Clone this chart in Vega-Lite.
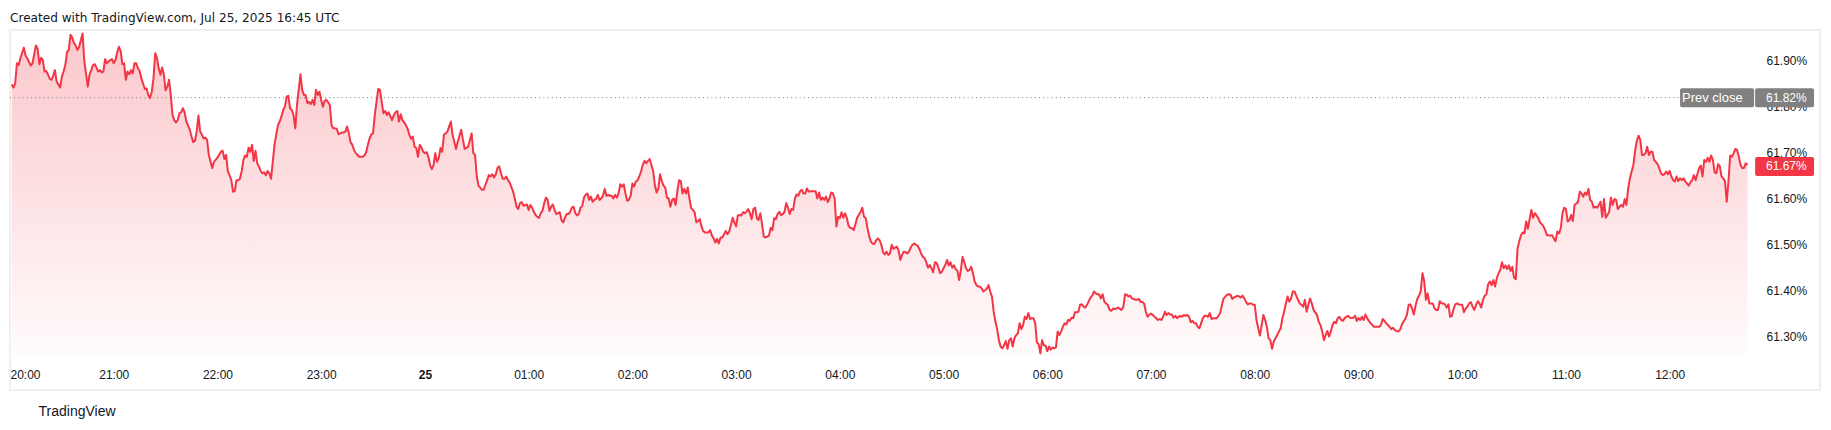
{
"$schema": "https://vega.github.io/schema/vega-lite/v6.json",
"width": 1810, "height": 360,
"autosize": {"type": "none"},
"padding": {"left": 10, "top": 30, "right": 11, "bottom": 40},
"background": "#ffffff",
"config": {"view": {"stroke": "#efefef", "strokeWidth": 2}, "font": "Liberation Sans"},
"title": {"text": "Created with TradingView.com, Jul 25, 2025 16:45 UTC", "anchor": "start", "frame": "group", "font": "DejaVu Sans", "fontSize": 12.1, "fontWeight": "normal", "color": "#131722", "offset": -4, "baseline": "alphabetic"},
"layer": [
  {"data": {"format": {"parse": {"t": "utc:'%Y-%m-%d %H:%M'"}}, "values": [
{"t":"2025-07-24 20:01","v":61.849},{"t":"2025-07-24 20:02","v":61.842},{"t":"2025-07-24 20:03","v":61.851},{"t":"2025-07-24 20:04","v":61.895},{"t":"2025-07-24 20:05","v":61.891},{"t":"2025-07-24 20:06","v":61.906},{"t":"2025-07-24 20:08","v":61.929},{"t":"2025-07-24 20:09","v":61.912},{"t":"2025-07-24 20:10","v":61.906},{"t":"2025-07-24 20:12","v":61.890},{"t":"2025-07-24 20:13","v":61.895},{"t":"2025-07-24 20:15","v":61.934},{"t":"2025-07-24 20:16","v":61.926},{"t":"2025-07-24 20:17","v":61.893},{"t":"2025-07-24 20:18","v":61.907},{"t":"2025-07-24 20:19","v":61.902},{"t":"2025-07-24 20:20","v":61.877},{"t":"2025-07-24 20:21","v":61.878},{"t":"2025-07-24 20:22","v":61.870},{"t":"2025-07-24 20:23","v":61.861},{"t":"2025-07-24 20:24","v":61.859},{"t":"2025-07-24 20:25","v":61.868},{"t":"2025-07-24 20:26","v":61.880},{"t":"2025-07-24 20:27","v":61.855},{"t":"2025-07-24 20:29","v":61.842},{"t":"2025-07-24 20:30","v":61.866},{"t":"2025-07-24 20:31","v":61.877},{"t":"2025-07-24 20:32","v":61.891},{"t":"2025-07-24 20:33","v":61.920},{"t":"2025-07-24 20:34","v":61.924},{"t":"2025-07-24 20:35","v":61.957},{"t":"2025-07-24 20:36","v":61.951},{"t":"2025-07-24 20:37","v":61.939},{"t":"2025-07-24 20:38","v":61.934},{"t":"2025-07-24 20:39","v":61.924},{"t":"2025-07-24 20:40","v":61.931},{"t":"2025-07-24 20:42","v":61.960},{"t":"2025-07-24 20:43","v":61.899},{"t":"2025-07-24 20:45","v":61.844},{"t":"2025-07-24 20:46","v":61.870},{"t":"2025-07-24 20:47","v":61.880},{"t":"2025-07-24 20:48","v":61.891},{"t":"2025-07-24 20:49","v":61.893},{"t":"2025-07-24 20:50","v":61.886},{"t":"2025-07-24 20:51","v":61.877},{"t":"2025-07-24 20:52","v":61.880},{"t":"2025-07-24 20:53","v":61.875},{"t":"2025-07-24 20:54","v":61.877},{"t":"2025-07-24 20:55","v":61.904},{"t":"2025-07-24 20:56","v":61.895},{"t":"2025-07-24 20:57","v":61.899},{"t":"2025-07-24 20:58","v":61.902},{"t":"2025-07-24 20:59","v":61.904},
{"t":"2025-07-24 21:00","v":61.895},{"t":"2025-07-24 21:01","v":61.902},{"t":"2025-07-24 21:02","v":61.919},{"t":"2025-07-24 21:03","v":61.931},{"t":"2025-07-24 21:04","v":61.922},{"t":"2025-07-24 21:05","v":61.893},{"t":"2025-07-24 21:06","v":61.895},{"t":"2025-07-24 21:07","v":61.859},{"t":"2025-07-24 21:08","v":61.877},{"t":"2025-07-24 21:09","v":61.871},{"t":"2025-07-24 21:10","v":61.880},{"t":"2025-07-24 21:11","v":61.873},{"t":"2025-07-24 21:12","v":61.895},{"t":"2025-07-24 21:13","v":61.895},{"t":"2025-07-24 21:14","v":61.884},{"t":"2025-07-24 21:15","v":61.878},{"t":"2025-07-24 21:16","v":61.862},{"t":"2025-07-24 21:18","v":61.839},{"t":"2025-07-24 21:19","v":61.840},{"t":"2025-07-24 21:20","v":61.826},{"t":"2025-07-24 21:21","v":61.819},{"t":"2025-07-24 21:22","v":61.833},{"t":"2025-07-24 21:23","v":61.862},{"t":"2025-07-24 21:24","v":61.917},{"t":"2025-07-24 21:25","v":61.906},{"t":"2025-07-24 21:26","v":61.884},{"t":"2025-07-24 21:27","v":61.870},{"t":"2025-07-24 21:28","v":61.886},{"t":"2025-07-24 21:29","v":61.870},{"t":"2025-07-24 21:30","v":61.836},{"t":"2025-07-24 21:31","v":61.844},{"t":"2025-07-24 21:32","v":61.859},{"t":"2025-07-24 21:33","v":61.826},{"t":"2025-07-24 21:34","v":61.782},{"t":"2025-07-24 21:35","v":61.771},{"t":"2025-07-24 21:36","v":61.766},{"t":"2025-07-24 21:37","v":61.771},{"t":"2025-07-24 21:38","v":61.786},{"t":"2025-07-24 21:39","v":61.788},{"t":"2025-07-24 21:40","v":61.797},{"t":"2025-07-24 21:41","v":61.788},{"t":"2025-07-24 21:42","v":61.768},{"t":"2025-07-24 21:43","v":61.759},{"t":"2025-07-24 21:44","v":61.750},{"t":"2025-07-24 21:45","v":61.735},{"t":"2025-07-24 21:46","v":61.723},{"t":"2025-07-24 21:47","v":61.726},{"t":"2025-07-24 21:48","v":61.746},{"t":"2025-07-24 21:49","v":61.781},{"t":"2025-07-24 21:50","v":61.746},{"t":"2025-07-24 21:51","v":61.739},{"t":"2025-07-24 21:52","v":61.731},{"t":"2025-07-24 21:53","v":61.733},{"t":"2025-07-24 21:54","v":61.728},{"t":"2025-07-24 21:55","v":61.695},{"t":"2025-07-24 21:56","v":61.680},{"t":"2025-07-24 21:57","v":61.666},{"t":"2025-07-24 21:58","v":61.680},
{"t":"2025-07-24 22:00","v":61.689},{"t":"2025-07-24 22:01","v":61.696},{"t":"2025-07-24 22:02","v":61.702},{"t":"2025-07-24 22:03","v":61.704},{"t":"2025-07-24 22:04","v":61.686},{"t":"2025-07-24 22:05","v":61.695},{"t":"2025-07-24 22:06","v":61.659},{"t":"2025-07-24 22:07","v":61.651},{"t":"2025-07-24 22:08","v":61.640},{"t":"2025-07-24 22:09","v":61.615},{"t":"2025-07-24 22:10","v":61.616},{"t":"2025-07-24 22:11","v":61.640},{"t":"2025-07-24 22:12","v":61.640},{"t":"2025-07-24 22:13","v":61.643},{"t":"2025-07-24 22:14","v":61.659},{"t":"2025-07-24 22:15","v":61.684},{"t":"2025-07-24 22:16","v":61.694},{"t":"2025-07-24 22:17","v":61.691},{"t":"2025-07-24 22:18","v":61.711},{"t":"2025-07-24 22:19","v":61.702},{"t":"2025-07-24 22:20","v":61.717},{"t":"2025-07-24 22:21","v":61.682},{"t":"2025-07-24 22:22","v":61.704},{"t":"2025-07-24 22:23","v":61.677},{"t":"2025-07-24 22:24","v":61.670},{"t":"2025-07-24 22:25","v":61.660},{"t":"2025-07-24 22:26","v":61.655},{"t":"2025-07-24 22:27","v":61.657},{"t":"2025-07-24 22:28","v":61.651},{"t":"2025-07-24 22:29","v":61.660},{"t":"2025-07-24 22:30","v":61.655},{"t":"2025-07-24 22:31","v":61.643},{"t":"2025-07-24 22:32","v":61.680},{"t":"2025-07-24 22:33","v":61.717},{"t":"2025-07-24 22:34","v":61.739},{"t":"2025-07-24 22:35","v":61.760},{"t":"2025-07-24 22:36","v":61.768},{"t":"2025-07-24 22:37","v":61.779},{"t":"2025-07-24 22:38","v":61.793},{"t":"2025-07-24 22:39","v":61.800},{"t":"2025-07-24 22:40","v":61.822},{"t":"2025-07-24 22:41","v":61.824},{"t":"2025-07-24 22:42","v":61.797},{"t":"2025-07-24 22:43","v":61.793},{"t":"2025-07-24 22:44","v":61.782},{"t":"2025-07-24 22:45","v":61.753},{"t":"2025-07-24 22:46","v":61.804},{"t":"2025-07-24 22:47","v":61.837},{"t":"2025-07-24 22:48","v":61.871},{"t":"2025-07-24 22:49","v":61.837},{"t":"2025-07-24 22:50","v":61.826},{"t":"2025-07-24 22:51","v":61.826},{"t":"2025-07-24 22:52","v":61.808},{"t":"2025-07-24 22:53","v":61.811},{"t":"2025-07-24 22:54","v":61.806},{"t":"2025-07-24 22:55","v":61.815},{"t":"2025-07-24 22:56","v":61.804},{"t":"2025-07-24 22:57","v":61.837},{"t":"2025-07-24 22:58","v":61.826},{"t":"2025-07-24 22:59","v":61.833},
{"t":"2025-07-24 23:00","v":61.815},{"t":"2025-07-24 23:01","v":61.800},{"t":"2025-07-24 23:02","v":61.813},{"t":"2025-07-24 23:03","v":61.815},{"t":"2025-07-24 23:04","v":61.810},{"t":"2025-07-24 23:05","v":61.804},{"t":"2025-07-24 23:06","v":61.760},{"t":"2025-07-24 23:07","v":61.753},{"t":"2025-07-24 23:08","v":61.753},{"t":"2025-07-24 23:09","v":61.752},{"t":"2025-07-24 23:10","v":61.740},{"t":"2025-07-24 23:11","v":61.742},{"t":"2025-07-24 23:12","v":61.744},{"t":"2025-07-24 23:13","v":61.744},{"t":"2025-07-24 23:14","v":61.746},{"t":"2025-07-24 23:15","v":61.757},{"t":"2025-07-24 23:16","v":61.742},{"t":"2025-07-24 23:17","v":61.723},{"t":"2025-07-24 23:18","v":61.717},{"t":"2025-07-24 23:19","v":61.706},{"t":"2025-07-24 23:20","v":61.699},{"t":"2025-07-24 23:21","v":61.695},{"t":"2025-07-24 23:22","v":61.691},{"t":"2025-07-24 23:23","v":61.691},{"t":"2025-07-24 23:24","v":61.691},{"t":"2025-07-24 23:25","v":61.694},{"t":"2025-07-24 23:26","v":61.701},{"t":"2025-07-24 23:27","v":61.717},{"t":"2025-07-24 23:28","v":61.731},{"t":"2025-07-24 23:29","v":61.740},{"t":"2025-07-24 23:30","v":61.742},{"t":"2025-07-24 23:31","v":61.782},{"t":"2025-07-24 23:32","v":61.811},{"t":"2025-07-24 23:33","v":61.839},{"t":"2025-07-24 23:34","v":61.837},{"t":"2025-07-24 23:35","v":61.811},{"t":"2025-07-24 23:36","v":61.786},{"t":"2025-07-24 23:37","v":61.791},{"t":"2025-07-24 23:38","v":61.782},{"t":"2025-07-24 23:39","v":61.788},{"t":"2025-07-24 23:40","v":61.779},{"t":"2025-07-24 23:41","v":61.771},{"t":"2025-07-24 23:42","v":61.782},{"t":"2025-07-24 23:43","v":61.788},{"t":"2025-07-24 23:44","v":61.791},{"t":"2025-07-24 23:45","v":61.768},{"t":"2025-07-24 23:46","v":61.784},{"t":"2025-07-24 23:47","v":61.771},{"t":"2025-07-24 23:48","v":61.766},{"t":"2025-07-24 23:49","v":61.760},{"t":"2025-07-24 23:50","v":61.752},{"t":"2025-07-24 23:51","v":61.739},{"t":"2025-07-24 23:52","v":61.730},{"t":"2025-07-24 23:53","v":61.735},{"t":"2025-07-24 23:54","v":61.713},{"t":"2025-07-24 23:55","v":61.710},{"t":"2025-07-24 23:56","v":61.691},{"t":"2025-07-24 23:57","v":61.717},{"t":"2025-07-24 23:58","v":61.711},{"t":"2025-07-24 23:59","v":61.702},
{"t":"2025-07-25 00:00","v":61.699},{"t":"2025-07-25 00:01","v":61.701},{"t":"2025-07-25 00:02","v":61.691},{"t":"2025-07-25 00:03","v":61.673},{"t":"2025-07-25 00:04","v":61.664},{"t":"2025-07-25 00:05","v":61.673},{"t":"2025-07-25 00:06","v":61.699},{"t":"2025-07-25 00:07","v":61.680},{"t":"2025-07-25 00:08","v":61.688},{"t":"2025-07-25 00:09","v":61.710},{"t":"2025-07-25 00:10","v":61.702},{"t":"2025-07-25 00:11","v":61.739},{"t":"2025-07-25 00:12","v":61.742},{"t":"2025-07-25 00:13","v":61.746},{"t":"2025-07-25 00:15","v":61.768},{"t":"2025-07-25 00:16","v":61.739},{"t":"2025-07-25 00:18","v":61.708},{"t":"2025-07-25 00:19","v":61.724},{"t":"2025-07-25 00:21","v":61.750},{"t":"2025-07-25 00:22","v":61.728},{"t":"2025-07-25 00:23","v":61.708},{"t":"2025-07-25 00:25","v":61.713},{"t":"2025-07-25 00:27","v":61.742},{"t":"2025-07-25 00:28","v":61.699},{"t":"2025-07-25 00:29","v":61.695},{"t":"2025-07-25 00:30","v":61.648},{"t":"2025-07-25 00:31","v":61.628},{"t":"2025-07-25 00:33","v":61.619},{"t":"2025-07-25 00:34","v":61.619},{"t":"2025-07-25 00:35","v":61.630},{"t":"2025-07-25 00:36","v":61.640},{"t":"2025-07-25 00:37","v":61.651},{"t":"2025-07-25 00:38","v":61.648},{"t":"2025-07-25 00:39","v":61.653},{"t":"2025-07-25 00:40","v":61.646},{"t":"2025-07-25 00:41","v":61.653},{"t":"2025-07-25 00:42","v":61.667},{"t":"2025-07-25 00:43","v":61.670},{"t":"2025-07-25 00:44","v":61.655},{"t":"2025-07-25 00:45","v":61.643},{"t":"2025-07-25 00:46","v":61.643},{"t":"2025-07-25 00:47","v":61.648},{"t":"2025-07-25 00:48","v":61.640},{"t":"2025-07-25 00:49","v":61.635},{"t":"2025-07-25 00:51","v":61.615},{"t":"2025-07-25 00:52","v":61.600},{"t":"2025-07-25 00:53","v":61.582},{"t":"2025-07-25 00:54","v":61.577},{"t":"2025-07-25 00:55","v":61.590},{"t":"2025-07-25 00:56","v":61.592},{"t":"2025-07-25 00:57","v":61.584},{"t":"2025-07-25 00:58","v":61.586},{"t":"2025-07-25 00:59","v":61.587},
{"t":"2025-07-25 01:00","v":61.575},{"t":"2025-07-25 01:01","v":61.586},{"t":"2025-07-25 01:02","v":61.580},{"t":"2025-07-25 01:03","v":61.571},{"t":"2025-07-25 01:04","v":61.564},{"t":"2025-07-25 01:05","v":61.560},{"t":"2025-07-25 01:06","v":61.558},{"t":"2025-07-25 01:07","v":61.568},{"t":"2025-07-25 01:08","v":61.573},{"t":"2025-07-25 01:09","v":61.590},{"t":"2025-07-25 01:10","v":61.602},{"t":"2025-07-25 01:11","v":61.597},{"t":"2025-07-25 01:12","v":61.573},{"t":"2025-07-25 01:13","v":61.582},{"t":"2025-07-25 01:14","v":61.587},{"t":"2025-07-25 01:15","v":61.575},{"t":"2025-07-25 01:16","v":61.566},{"t":"2025-07-25 01:17","v":61.568},{"t":"2025-07-25 01:18","v":61.570},{"t":"2025-07-25 01:19","v":61.553},{"t":"2025-07-25 01:20","v":61.548},{"t":"2025-07-25 01:21","v":61.558},{"t":"2025-07-25 01:22","v":61.566},{"t":"2025-07-25 01:23","v":61.566},{"t":"2025-07-25 01:24","v":61.571},{"t":"2025-07-25 01:25","v":61.580},{"t":"2025-07-25 01:26","v":61.582},{"t":"2025-07-25 01:27","v":61.568},{"t":"2025-07-25 01:28","v":61.563},{"t":"2025-07-25 01:29","v":61.566},{"t":"2025-07-25 01:30","v":61.580},{"t":"2025-07-25 01:31","v":61.584},{"t":"2025-07-25 01:32","v":61.602},{"t":"2025-07-25 01:33","v":61.608},{"t":"2025-07-25 01:34","v":61.611},{"t":"2025-07-25 01:35","v":61.597},{"t":"2025-07-25 01:36","v":61.604},{"t":"2025-07-25 01:37","v":61.593},{"t":"2025-07-25 01:38","v":61.597},{"t":"2025-07-25 01:39","v":61.599},{"t":"2025-07-25 01:40","v":61.608},{"t":"2025-07-25 01:41","v":61.597},{"t":"2025-07-25 01:42","v":61.600},{"t":"2025-07-25 01:43","v":61.606},{"t":"2025-07-25 01:44","v":61.621},{"t":"2025-07-25 01:45","v":61.606},{"t":"2025-07-25 01:46","v":61.608},{"t":"2025-07-25 01:47","v":61.606},{"t":"2025-07-25 01:48","v":61.606},{"t":"2025-07-25 01:49","v":61.600},{"t":"2025-07-25 01:50","v":61.608},{"t":"2025-07-25 01:51","v":61.602},{"t":"2025-07-25 01:52","v":61.611},{"t":"2025-07-25 01:53","v":61.631},{"t":"2025-07-25 01:54","v":61.626},{"t":"2025-07-25 01:55","v":61.631},{"t":"2025-07-25 01:56","v":61.611},{"t":"2025-07-25 01:57","v":61.595},{"t":"2025-07-25 01:58","v":61.597},{"t":"2025-07-25 01:59","v":61.606},
{"t":"2025-07-25 02:00","v":61.633},{"t":"2025-07-25 02:01","v":61.626},{"t":"2025-07-25 02:02","v":61.637},{"t":"2025-07-25 02:03","v":61.640},{"t":"2025-07-25 02:04","v":61.648},{"t":"2025-07-25 02:05","v":61.659},{"t":"2025-07-25 02:06","v":61.673},{"t":"2025-07-25 02:07","v":61.682},{"t":"2025-07-25 02:08","v":61.677},{"t":"2025-07-25 02:09","v":61.682},{"t":"2025-07-25 02:10","v":61.686},{"t":"2025-07-25 02:11","v":61.673},{"t":"2025-07-25 02:12","v":61.660},{"t":"2025-07-25 02:13","v":61.630},{"t":"2025-07-25 02:14","v":61.613},{"t":"2025-07-25 02:15","v":61.621},{"t":"2025-07-25 02:16","v":61.653},{"t":"2025-07-25 02:17","v":61.638},{"t":"2025-07-25 02:18","v":61.628},{"t":"2025-07-25 02:19","v":61.624},{"t":"2025-07-25 02:20","v":61.602},{"t":"2025-07-25 02:21","v":61.600},{"t":"2025-07-25 02:22","v":61.582},{"t":"2025-07-25 02:23","v":61.597},{"t":"2025-07-25 02:24","v":61.600},{"t":"2025-07-25 02:25","v":61.586},{"t":"2025-07-25 02:26","v":61.615},{"t":"2025-07-25 02:27","v":61.640},{"t":"2025-07-25 02:28","v":61.638},{"t":"2025-07-25 02:29","v":61.611},{"t":"2025-07-25 02:30","v":61.621},{"t":"2025-07-25 02:31","v":61.611},{"t":"2025-07-25 02:32","v":61.624},{"t":"2025-07-25 02:33","v":61.600},{"t":"2025-07-25 02:34","v":61.579},{"t":"2025-07-25 02:35","v":61.575},{"t":"2025-07-25 02:36","v":61.570},{"t":"2025-07-25 02:37","v":61.548},{"t":"2025-07-25 02:38","v":61.551},{"t":"2025-07-25 02:39","v":61.555},{"t":"2025-07-25 02:40","v":61.539},{"t":"2025-07-25 02:41","v":61.529},{"t":"2025-07-25 02:42","v":61.526},{"t":"2025-07-25 02:43","v":61.526},{"t":"2025-07-25 02:44","v":61.526},{"t":"2025-07-25 02:45","v":61.531},{"t":"2025-07-25 02:46","v":61.519},{"t":"2025-07-25 02:47","v":61.513},{"t":"2025-07-25 02:48","v":61.504},{"t":"2025-07-25 02:49","v":61.512},{"t":"2025-07-25 02:50","v":61.502},{"t":"2025-07-25 02:51","v":61.515},{"t":"2025-07-25 02:52","v":61.515},{"t":"2025-07-25 02:53","v":61.522},{"t":"2025-07-25 02:54","v":61.529},{"t":"2025-07-25 02:55","v":61.522},{"t":"2025-07-25 02:56","v":61.528},{"t":"2025-07-25 02:57","v":61.542},{"t":"2025-07-25 02:58","v":61.558},{"t":"2025-07-25 02:59","v":61.548},
{"t":"2025-07-25 03:00","v":61.539},{"t":"2025-07-25 03:01","v":61.563},{"t":"2025-07-25 03:02","v":61.564},{"t":"2025-07-25 03:03","v":61.563},{"t":"2025-07-25 03:04","v":61.570},{"t":"2025-07-25 03:05","v":61.568},{"t":"2025-07-25 03:06","v":61.571},{"t":"2025-07-25 03:07","v":61.577},{"t":"2025-07-25 03:08","v":61.568},{"t":"2025-07-25 03:09","v":61.555},{"t":"2025-07-25 03:10","v":61.577},{"t":"2025-07-25 03:11","v":61.580},{"t":"2025-07-25 03:12","v":61.557},{"t":"2025-07-25 03:13","v":61.553},{"t":"2025-07-25 03:14","v":61.568},{"t":"2025-07-25 03:15","v":61.544},{"t":"2025-07-25 03:16","v":61.517},{"t":"2025-07-25 03:17","v":61.515},{"t":"2025-07-25 03:18","v":61.517},{"t":"2025-07-25 03:19","v":61.519},{"t":"2025-07-25 03:20","v":61.536},{"t":"2025-07-25 03:21","v":61.531},{"t":"2025-07-25 03:22","v":61.557},{"t":"2025-07-25 03:23","v":61.555},{"t":"2025-07-25 03:24","v":61.566},{"t":"2025-07-25 03:25","v":61.571},{"t":"2025-07-25 03:26","v":61.564},{"t":"2025-07-25 03:27","v":61.566},{"t":"2025-07-25 03:28","v":61.571},{"t":"2025-07-25 03:29","v":61.590},{"t":"2025-07-25 03:30","v":61.580},{"t":"2025-07-25 03:31","v":61.566},{"t":"2025-07-25 03:32","v":61.577},{"t":"2025-07-25 03:33","v":61.575},{"t":"2025-07-25 03:34","v":61.600},{"t":"2025-07-25 03:35","v":61.609},{"t":"2025-07-25 03:36","v":61.606},{"t":"2025-07-25 03:37","v":61.616},{"t":"2025-07-25 03:38","v":61.619},{"t":"2025-07-25 03:39","v":61.611},{"t":"2025-07-25 03:40","v":61.611},{"t":"2025-07-25 03:41","v":61.622},{"t":"2025-07-25 03:42","v":61.615},{"t":"2025-07-25 03:43","v":61.616},{"t":"2025-07-25 03:44","v":61.616},{"t":"2025-07-25 03:45","v":61.616},{"t":"2025-07-25 03:46","v":61.616},{"t":"2025-07-25 03:47","v":61.600},{"t":"2025-07-25 03:48","v":61.613},{"t":"2025-07-25 03:49","v":61.597},{"t":"2025-07-25 03:50","v":61.602},{"t":"2025-07-25 03:51","v":61.597},{"t":"2025-07-25 03:52","v":61.604},{"t":"2025-07-25 03:53","v":61.592},{"t":"2025-07-25 03:54","v":61.600},{"t":"2025-07-25 03:55","v":61.613},{"t":"2025-07-25 03:56","v":61.611},{"t":"2025-07-25 03:57","v":61.600},{"t":"2025-07-25 03:58","v":61.539},{"t":"2025-07-25 03:59","v":61.560},
{"t":"2025-07-25 04:00","v":61.557},{"t":"2025-07-25 04:01","v":61.570},{"t":"2025-07-25 04:02","v":61.558},{"t":"2025-07-25 04:03","v":61.568},{"t":"2025-07-25 04:04","v":61.558},{"t":"2025-07-25 04:05","v":61.541},{"t":"2025-07-25 04:06","v":61.536},{"t":"2025-07-25 04:07","v":61.535},{"t":"2025-07-25 04:08","v":61.531},{"t":"2025-07-25 04:09","v":61.544},{"t":"2025-07-25 04:10","v":61.558},{"t":"2025-07-25 04:11","v":61.564},{"t":"2025-07-25 04:12","v":61.571},{"t":"2025-07-25 04:13","v":61.580},{"t":"2025-07-25 04:14","v":61.560},{"t":"2025-07-25 04:15","v":61.557},{"t":"2025-07-25 04:16","v":61.535},{"t":"2025-07-25 04:17","v":61.517},{"t":"2025-07-25 04:18","v":61.506},{"t":"2025-07-25 04:19","v":61.501},{"t":"2025-07-25 04:20","v":61.501},{"t":"2025-07-25 04:21","v":61.509},{"t":"2025-07-25 04:22","v":61.513},{"t":"2025-07-25 04:23","v":61.509},{"t":"2025-07-25 04:24","v":61.499},{"t":"2025-07-25 04:25","v":61.483},{"t":"2025-07-25 04:26","v":61.478},{"t":"2025-07-25 04:27","v":61.484},{"t":"2025-07-25 04:28","v":61.477},{"t":"2025-07-25 04:29","v":61.480},{"t":"2025-07-25 04:30","v":61.499},{"t":"2025-07-25 04:31","v":61.490},{"t":"2025-07-25 04:32","v":61.493},{"t":"2025-07-25 04:33","v":61.495},{"t":"2025-07-25 04:34","v":61.486},{"t":"2025-07-25 04:35","v":61.466},{"t":"2025-07-25 04:36","v":61.477},{"t":"2025-07-25 04:37","v":61.484},{"t":"2025-07-25 04:38","v":61.483},{"t":"2025-07-25 04:39","v":61.480},{"t":"2025-07-25 04:40","v":61.484},{"t":"2025-07-25 04:41","v":61.493},{"t":"2025-07-25 04:42","v":61.499},{"t":"2025-07-25 04:43","v":61.502},{"t":"2025-07-25 04:44","v":61.499},{"t":"2025-07-25 04:45","v":61.497},{"t":"2025-07-25 04:46","v":61.490},{"t":"2025-07-25 04:47","v":61.480},{"t":"2025-07-25 04:48","v":61.473},{"t":"2025-07-25 04:49","v":61.470},{"t":"2025-07-25 04:50","v":61.461},{"t":"2025-07-25 04:51","v":61.449},{"t":"2025-07-25 04:52","v":61.455},{"t":"2025-07-25 04:53","v":61.448},{"t":"2025-07-25 04:54","v":61.439},{"t":"2025-07-25 04:55","v":61.461},{"t":"2025-07-25 04:56","v":61.459},{"t":"2025-07-25 04:57","v":61.449},{"t":"2025-07-25 04:58","v":61.437},{"t":"2025-07-25 04:59","v":61.440},
{"t":"2025-07-25 05:00","v":61.448},{"t":"2025-07-25 05:01","v":61.455},{"t":"2025-07-25 05:02","v":61.466},{"t":"2025-07-25 05:03","v":61.454},{"t":"2025-07-25 05:04","v":61.461},{"t":"2025-07-25 05:05","v":61.449},{"t":"2025-07-25 05:06","v":61.454},{"t":"2025-07-25 05:07","v":61.446},{"t":"2025-07-25 05:08","v":61.442},{"t":"2025-07-25 05:09","v":61.422},{"t":"2025-07-25 05:10","v":61.444},{"t":"2025-07-25 05:11","v":61.473},{"t":"2025-07-25 05:12","v":61.461},{"t":"2025-07-25 05:13","v":61.448},{"t":"2025-07-25 05:14","v":61.442},{"t":"2025-07-25 05:15","v":61.444},{"t":"2025-07-25 05:16","v":61.451},{"t":"2025-07-25 05:17","v":61.437},{"t":"2025-07-25 05:18","v":61.419},{"t":"2025-07-25 05:19","v":61.411},{"t":"2025-07-25 05:20","v":61.408},{"t":"2025-07-25 05:21","v":61.408},{"t":"2025-07-25 05:22","v":61.404},{"t":"2025-07-25 05:23","v":61.397},{"t":"2025-07-25 05:24","v":61.400},{"t":"2025-07-25 05:25","v":61.403},{"t":"2025-07-25 05:26","v":61.411},{"t":"2025-07-25 05:27","v":61.397},{"t":"2025-07-25 05:28","v":61.386},{"t":"2025-07-25 05:29","v":61.353},{"t":"2025-07-25 05:30","v":61.331},{"t":"2025-07-25 05:31","v":61.315},{"t":"2025-07-25 05:32","v":61.291},{"t":"2025-07-25 05:33","v":61.277},{"t":"2025-07-25 05:34","v":61.273},{"t":"2025-07-25 05:35","v":61.280},{"t":"2025-07-25 05:36","v":61.289},{"t":"2025-07-25 05:37","v":61.272},{"t":"2025-07-25 05:38","v":61.291},{"t":"2025-07-25 05:39","v":61.295},{"t":"2025-07-25 05:40","v":61.277},{"t":"2025-07-25 05:41","v":61.295},{"t":"2025-07-25 05:42","v":61.302},{"t":"2025-07-25 05:43","v":61.306},{"t":"2025-07-25 05:44","v":61.328},{"t":"2025-07-25 05:45","v":61.315},{"t":"2025-07-25 05:46","v":61.324},{"t":"2025-07-25 05:47","v":61.342},{"t":"2025-07-25 05:48","v":61.337},{"t":"2025-07-25 05:49","v":61.350},{"t":"2025-07-25 05:50","v":61.337},{"t":"2025-07-25 05:51","v":61.339},{"t":"2025-07-25 05:52","v":61.339},{"t":"2025-07-25 05:53","v":61.328},{"t":"2025-07-25 05:54","v":61.286},{"t":"2025-07-25 05:55","v":61.282},{"t":"2025-07-25 05:56","v":61.262},{"t":"2025-07-25 05:57","v":61.291},{"t":"2025-07-25 05:58","v":61.280},{"t":"2025-07-25 05:59","v":61.279},
{"t":"2025-07-25 06:00","v":61.267},{"t":"2025-07-25 06:01","v":61.277},{"t":"2025-07-25 06:02","v":61.270},{"t":"2025-07-25 06:03","v":61.275},{"t":"2025-07-25 06:04","v":61.273},{"t":"2025-07-25 06:05","v":61.275},{"t":"2025-07-25 06:06","v":61.310},{"t":"2025-07-25 06:07","v":61.302},{"t":"2025-07-25 06:08","v":61.310},{"t":"2025-07-25 06:09","v":61.320},{"t":"2025-07-25 06:10","v":61.328},{"t":"2025-07-25 06:11","v":61.325},{"t":"2025-07-25 06:12","v":61.335},{"t":"2025-07-25 06:13","v":61.333},{"t":"2025-07-25 06:14","v":61.340},{"t":"2025-07-25 06:15","v":61.339},{"t":"2025-07-25 06:16","v":61.352},{"t":"2025-07-25 06:17","v":61.352},{"t":"2025-07-25 06:18","v":61.353},{"t":"2025-07-25 06:19","v":61.369},{"t":"2025-07-25 06:20","v":61.369},{"t":"2025-07-25 06:21","v":61.364},{"t":"2025-07-25 06:22","v":61.362},{"t":"2025-07-25 06:23","v":61.368},{"t":"2025-07-25 06:24","v":61.376},{"t":"2025-07-25 06:25","v":61.384},{"t":"2025-07-25 06:26","v":61.388},{"t":"2025-07-25 06:27","v":61.397},{"t":"2025-07-25 06:28","v":61.393},{"t":"2025-07-25 06:29","v":61.391},{"t":"2025-07-25 06:30","v":61.391},{"t":"2025-07-25 06:31","v":61.382},{"t":"2025-07-25 06:32","v":61.391},{"t":"2025-07-25 06:33","v":61.375},{"t":"2025-07-25 06:34","v":61.371},{"t":"2025-07-25 06:35","v":61.368},{"t":"2025-07-25 06:36","v":61.357},{"t":"2025-07-25 06:37","v":61.355},{"t":"2025-07-25 06:38","v":61.360},{"t":"2025-07-25 06:39","v":61.359},{"t":"2025-07-25 06:40","v":61.360},{"t":"2025-07-25 06:41","v":61.362},{"t":"2025-07-25 06:42","v":61.359},{"t":"2025-07-25 06:43","v":61.357},{"t":"2025-07-25 06:44","v":61.364},{"t":"2025-07-25 06:45","v":61.391},{"t":"2025-07-25 06:46","v":61.390},{"t":"2025-07-25 06:47","v":61.386},{"t":"2025-07-25 06:48","v":61.388},{"t":"2025-07-25 06:49","v":61.382},{"t":"2025-07-25 06:50","v":61.381},{"t":"2025-07-25 06:51","v":61.379},{"t":"2025-07-25 06:52","v":61.379},{"t":"2025-07-25 06:53","v":61.381},{"t":"2025-07-25 06:54","v":61.374},{"t":"2025-07-25 06:55","v":61.374},{"t":"2025-07-25 06:56","v":61.371},{"t":"2025-07-25 06:57","v":61.353},{"t":"2025-07-25 06:58","v":61.342},{"t":"2025-07-25 06:59","v":61.346},
{"t":"2025-07-25 07:00","v":61.349},{"t":"2025-07-25 07:01","v":61.346},{"t":"2025-07-25 07:02","v":61.342},{"t":"2025-07-25 07:03","v":61.339},{"t":"2025-07-25 07:04","v":61.335},{"t":"2025-07-25 07:05","v":61.337},{"t":"2025-07-25 07:06","v":61.335},{"t":"2025-07-25 07:07","v":61.342},{"t":"2025-07-25 07:08","v":61.353},{"t":"2025-07-25 07:09","v":61.346},{"t":"2025-07-25 07:10","v":61.350},{"t":"2025-07-25 07:11","v":61.347},{"t":"2025-07-25 07:12","v":61.347},{"t":"2025-07-25 07:13","v":61.340},{"t":"2025-07-25 07:14","v":61.344},{"t":"2025-07-25 07:15","v":61.339},{"t":"2025-07-25 07:16","v":61.342},{"t":"2025-07-25 07:17","v":61.344},{"t":"2025-07-25 07:18","v":61.342},{"t":"2025-07-25 07:19","v":61.346},{"t":"2025-07-25 07:20","v":61.344},{"t":"2025-07-25 07:21","v":61.346},{"t":"2025-07-25 07:22","v":61.342},{"t":"2025-07-25 07:23","v":61.330},{"t":"2025-07-25 07:24","v":61.333},{"t":"2025-07-25 07:25","v":61.328},{"t":"2025-07-25 07:26","v":61.328},{"t":"2025-07-25 07:27","v":61.320},{"t":"2025-07-25 07:28","v":61.317},{"t":"2025-07-25 07:29","v":61.328},{"t":"2025-07-25 07:30","v":61.339},{"t":"2025-07-25 07:31","v":61.344},{"t":"2025-07-25 07:32","v":61.344},{"t":"2025-07-25 07:33","v":61.342},{"t":"2025-07-25 07:34","v":61.350},{"t":"2025-07-25 07:35","v":61.337},{"t":"2025-07-25 07:36","v":61.339},{"t":"2025-07-25 07:37","v":61.339},{"t":"2025-07-25 07:38","v":61.339},{"t":"2025-07-25 07:39","v":61.344},{"t":"2025-07-25 07:40","v":61.350},{"t":"2025-07-25 07:41","v":61.368},{"t":"2025-07-25 07:42","v":61.382},{"t":"2025-07-25 07:43","v":61.386},{"t":"2025-07-25 07:44","v":61.390},{"t":"2025-07-25 07:45","v":61.391},{"t":"2025-07-25 07:46","v":61.390},{"t":"2025-07-25 07:47","v":61.381},{"t":"2025-07-25 07:48","v":61.384},{"t":"2025-07-25 07:49","v":61.386},{"t":"2025-07-25 07:50","v":61.388},{"t":"2025-07-25 07:51","v":61.386},{"t":"2025-07-25 07:52","v":61.384},{"t":"2025-07-25 07:53","v":61.388},{"t":"2025-07-25 07:54","v":61.382},{"t":"2025-07-25 07:55","v":61.374},{"t":"2025-07-25 07:56","v":61.369},{"t":"2025-07-25 07:57","v":61.371},{"t":"2025-07-25 07:58","v":61.371},{"t":"2025-07-25 07:59","v":61.368},
{"t":"2025-07-25 08:00","v":61.368},{"t":"2025-07-25 08:01","v":61.335},{"t":"2025-07-25 08:02","v":61.317},{"t":"2025-07-25 08:03","v":61.301},{"t":"2025-07-25 08:04","v":61.324},{"t":"2025-07-25 08:05","v":61.346},{"t":"2025-07-25 08:06","v":61.335},{"t":"2025-07-25 08:07","v":61.320},{"t":"2025-07-25 08:08","v":61.295},{"t":"2025-07-25 08:09","v":61.291},{"t":"2025-07-25 08:10","v":61.272},{"t":"2025-07-25 08:11","v":61.288},{"t":"2025-07-25 08:12","v":61.295},{"t":"2025-07-25 08:13","v":61.302},{"t":"2025-07-25 08:14","v":61.310},{"t":"2025-07-25 08:15","v":61.317},{"t":"2025-07-25 08:16","v":61.339},{"t":"2025-07-25 08:17","v":61.353},{"t":"2025-07-25 08:18","v":61.371},{"t":"2025-07-25 08:19","v":61.386},{"t":"2025-07-25 08:20","v":61.375},{"t":"2025-07-25 08:21","v":61.382},{"t":"2025-07-25 08:22","v":61.397},{"t":"2025-07-25 08:23","v":61.397},{"t":"2025-07-25 08:24","v":61.388},{"t":"2025-07-25 08:25","v":61.379},{"t":"2025-07-25 08:26","v":61.371},{"t":"2025-07-25 08:27","v":61.368},{"t":"2025-07-25 08:28","v":61.364},{"t":"2025-07-25 08:29","v":61.379},{"t":"2025-07-25 08:30","v":61.353},{"t":"2025-07-25 08:31","v":61.368},{"t":"2025-07-25 08:32","v":61.382},{"t":"2025-07-25 08:33","v":61.371},{"t":"2025-07-25 08:34","v":61.357},{"t":"2025-07-25 08:36","v":61.346},{"t":"2025-07-25 08:37","v":61.331},{"t":"2025-07-25 08:38","v":61.324},{"t":"2025-07-25 08:39","v":61.310},{"t":"2025-07-25 08:40","v":61.291},{"t":"2025-07-25 08:41","v":61.302},{"t":"2025-07-25 08:42","v":61.311},{"t":"2025-07-25 08:43","v":61.299},{"t":"2025-07-25 08:44","v":61.310},{"t":"2025-07-25 08:45","v":61.324},{"t":"2025-07-25 08:46","v":61.331},{"t":"2025-07-25 08:47","v":61.328},{"t":"2025-07-25 08:48","v":61.339},{"t":"2025-07-25 08:49","v":61.342},{"t":"2025-07-25 08:50","v":61.335},{"t":"2025-07-25 08:51","v":61.333},{"t":"2025-07-25 08:52","v":61.339},{"t":"2025-07-25 08:53","v":61.342},{"t":"2025-07-25 08:54","v":61.344},{"t":"2025-07-25 08:55","v":61.340},{"t":"2025-07-25 08:56","v":61.339},{"t":"2025-07-25 08:57","v":61.340},{"t":"2025-07-25 08:58","v":61.344},{"t":"2025-07-25 08:59","v":61.333},
{"t":"2025-07-25 09:00","v":61.339},{"t":"2025-07-25 09:01","v":61.335},{"t":"2025-07-25 09:02","v":61.342},{"t":"2025-07-25 09:03","v":61.335},{"t":"2025-07-25 09:04","v":61.347},{"t":"2025-07-25 09:05","v":61.339},{"t":"2025-07-25 09:06","v":61.333},{"t":"2025-07-25 09:07","v":61.328},{"t":"2025-07-25 09:08","v":61.324},{"t":"2025-07-25 09:09","v":61.320},{"t":"2025-07-25 09:10","v":61.320},{"t":"2025-07-25 09:11","v":61.320},{"t":"2025-07-25 09:12","v":61.320},{"t":"2025-07-25 09:13","v":61.324},{"t":"2025-07-25 09:14","v":61.337},{"t":"2025-07-25 09:15","v":61.333},{"t":"2025-07-25 09:16","v":61.328},{"t":"2025-07-25 09:17","v":61.324},{"t":"2025-07-25 09:18","v":61.320},{"t":"2025-07-25 09:19","v":61.315},{"t":"2025-07-25 09:20","v":61.318},{"t":"2025-07-25 09:21","v":61.313},{"t":"2025-07-25 09:22","v":61.311},{"t":"2025-07-25 09:23","v":61.310},{"t":"2025-07-25 09:24","v":61.313},{"t":"2025-07-25 09:25","v":61.324},{"t":"2025-07-25 09:26","v":61.331},{"t":"2025-07-25 09:27","v":61.337},{"t":"2025-07-25 09:28","v":61.346},{"t":"2025-07-25 09:29","v":61.368},{"t":"2025-07-25 09:30","v":61.369},{"t":"2025-07-25 09:31","v":61.360},{"t":"2025-07-25 09:32","v":61.347},{"t":"2025-07-25 09:33","v":61.366},{"t":"2025-07-25 09:34","v":61.381},{"t":"2025-07-25 09:35","v":61.388},{"t":"2025-07-25 09:36","v":61.397},{"t":"2025-07-25 09:37","v":61.437},{"t":"2025-07-25 09:38","v":61.420},{"t":"2025-07-25 09:39","v":61.379},{"t":"2025-07-25 09:40","v":61.393},{"t":"2025-07-25 09:41","v":61.371},{"t":"2025-07-25 09:42","v":61.371},{"t":"2025-07-25 09:43","v":61.371},{"t":"2025-07-25 09:44","v":61.360},{"t":"2025-07-25 09:45","v":61.357},{"t":"2025-07-25 09:46","v":61.357},{"t":"2025-07-25 09:47","v":61.376},{"t":"2025-07-25 09:48","v":61.371},{"t":"2025-07-25 09:49","v":61.371},{"t":"2025-07-25 09:50","v":61.369},{"t":"2025-07-25 09:51","v":61.362},{"t":"2025-07-25 09:52","v":61.369},{"t":"2025-07-25 09:53","v":61.342},{"t":"2025-07-25 09:54","v":61.344},{"t":"2025-07-25 09:55","v":61.359},{"t":"2025-07-25 09:56","v":61.369},{"t":"2025-07-25 09:57","v":61.371},{"t":"2025-07-25 09:58","v":61.369},{"t":"2025-07-25 09:59","v":61.368},
{"t":"2025-07-25 10:00","v":61.368},{"t":"2025-07-25 10:01","v":61.352},{"t":"2025-07-25 10:02","v":61.360},{"t":"2025-07-25 10:03","v":61.364},{"t":"2025-07-25 10:04","v":61.371},{"t":"2025-07-25 10:05","v":61.374},{"t":"2025-07-25 10:06","v":61.364},{"t":"2025-07-25 10:07","v":61.357},{"t":"2025-07-25 10:08","v":61.368},{"t":"2025-07-25 10:09","v":61.376},{"t":"2025-07-25 10:10","v":61.371},{"t":"2025-07-25 10:11","v":61.362},{"t":"2025-07-25 10:12","v":61.379},{"t":"2025-07-25 10:13","v":61.388},{"t":"2025-07-25 10:14","v":61.391},{"t":"2025-07-25 10:15","v":61.413},{"t":"2025-07-25 10:16","v":61.419},{"t":"2025-07-25 10:17","v":61.411},{"t":"2025-07-25 10:18","v":61.422},{"t":"2025-07-25 10:19","v":61.408},{"t":"2025-07-25 10:20","v":61.426},{"t":"2025-07-25 10:21","v":61.437},{"t":"2025-07-25 10:22","v":61.444},{"t":"2025-07-25 10:23","v":61.461},{"t":"2025-07-25 10:24","v":61.448},{"t":"2025-07-25 10:25","v":61.454},{"t":"2025-07-25 10:26","v":61.446},{"t":"2025-07-25 10:27","v":61.454},{"t":"2025-07-25 10:28","v":61.442},{"t":"2025-07-25 10:29","v":61.451},{"t":"2025-07-25 10:30","v":61.427},{"t":"2025-07-25 10:31","v":61.424},{"t":"2025-07-25 10:32","v":61.491},{"t":"2025-07-25 10:33","v":61.507},{"t":"2025-07-25 10:34","v":61.520},{"t":"2025-07-25 10:35","v":61.526},{"t":"2025-07-25 10:36","v":61.524},{"t":"2025-07-25 10:37","v":61.550},{"t":"2025-07-25 10:38","v":61.534},{"t":"2025-07-25 10:39","v":61.555},{"t":"2025-07-25 10:40","v":61.575},{"t":"2025-07-25 10:41","v":61.558},{"t":"2025-07-25 10:42","v":61.568},{"t":"2025-07-25 10:43","v":61.563},{"t":"2025-07-25 10:44","v":61.557},{"t":"2025-07-25 10:45","v":61.548},{"t":"2025-07-25 10:46","v":61.544},{"t":"2025-07-25 10:47","v":61.539},{"t":"2025-07-25 10:48","v":61.531},{"t":"2025-07-25 10:49","v":61.520},{"t":"2025-07-25 10:50","v":61.520},{"t":"2025-07-25 10:51","v":61.519},{"t":"2025-07-25 10:52","v":61.520},{"t":"2025-07-25 10:53","v":61.513},{"t":"2025-07-25 10:54","v":61.507},{"t":"2025-07-25 10:55","v":61.528},{"t":"2025-07-25 10:56","v":61.524},{"t":"2025-07-25 10:57","v":61.535},{"t":"2025-07-25 10:58","v":61.568},{"t":"2025-07-25 10:59","v":61.580},
{"t":"2025-07-25 11:00","v":61.577},{"t":"2025-07-25 11:01","v":61.550},{"t":"2025-07-25 11:02","v":61.553},{"t":"2025-07-25 11:03","v":61.564},{"t":"2025-07-25 11:04","v":61.551},{"t":"2025-07-25 11:05","v":61.586},{"t":"2025-07-25 11:06","v":61.589},{"t":"2025-07-25 11:07","v":61.593},{"t":"2025-07-25 11:08","v":61.615},{"t":"2025-07-25 11:09","v":61.611},{"t":"2025-07-25 11:10","v":61.604},{"t":"2025-07-25 11:11","v":61.613},{"t":"2025-07-25 11:12","v":61.608},{"t":"2025-07-25 11:13","v":61.621},{"t":"2025-07-25 11:14","v":61.597},{"t":"2025-07-25 11:15","v":61.593},{"t":"2025-07-25 11:16","v":61.580},{"t":"2025-07-25 11:17","v":61.582},{"t":"2025-07-25 11:18","v":61.580},{"t":"2025-07-25 11:19","v":61.586},{"t":"2025-07-25 11:20","v":61.593},{"t":"2025-07-25 11:21","v":61.560},{"t":"2025-07-25 11:22","v":61.599},{"t":"2025-07-25 11:23","v":61.558},{"t":"2025-07-25 11:24","v":61.564},{"t":"2025-07-25 11:25","v":61.571},{"t":"2025-07-25 11:26","v":61.602},{"t":"2025-07-25 11:27","v":61.586},{"t":"2025-07-25 11:28","v":61.599},{"t":"2025-07-25 11:29","v":61.597},{"t":"2025-07-25 11:30","v":61.577},{"t":"2025-07-25 11:31","v":61.582},{"t":"2025-07-25 11:32","v":61.586},{"t":"2025-07-25 11:33","v":61.582},{"t":"2025-07-25 11:34","v":61.599},{"t":"2025-07-25 11:35","v":61.586},{"t":"2025-07-25 11:36","v":61.622},{"t":"2025-07-25 11:37","v":61.644},{"t":"2025-07-25 11:38","v":61.659},{"t":"2025-07-25 11:39","v":61.673},{"t":"2025-07-25 11:40","v":61.704},{"t":"2025-07-25 11:41","v":61.726},{"t":"2025-07-25 11:42","v":61.737},{"t":"2025-07-25 11:43","v":61.728},{"t":"2025-07-25 11:44","v":61.695},{"t":"2025-07-25 11:45","v":61.695},{"t":"2025-07-25 11:46","v":61.699},{"t":"2025-07-25 11:47","v":61.713},{"t":"2025-07-25 11:48","v":61.695},{"t":"2025-07-25 11:49","v":61.702},{"t":"2025-07-25 11:50","v":61.702},{"t":"2025-07-25 11:51","v":61.684},{"t":"2025-07-25 11:52","v":61.680},{"t":"2025-07-25 11:53","v":61.675},{"t":"2025-07-25 11:54","v":61.666},{"t":"2025-07-25 11:55","v":61.655},{"t":"2025-07-25 11:56","v":61.651},{"t":"2025-07-25 11:57","v":61.653},{"t":"2025-07-25 11:58","v":61.659},{"t":"2025-07-25 11:59","v":61.653},
{"t":"2025-07-25 12:00","v":61.660},{"t":"2025-07-25 12:01","v":61.648},{"t":"2025-07-25 12:02","v":61.640},{"t":"2025-07-25 12:03","v":61.637},{"t":"2025-07-25 12:04","v":61.648},{"t":"2025-07-25 12:05","v":61.638},{"t":"2025-07-25 12:06","v":61.644},{"t":"2025-07-25 12:07","v":61.640},{"t":"2025-07-25 12:08","v":61.644},{"t":"2025-07-25 12:09","v":61.637},{"t":"2025-07-25 12:10","v":61.633},{"t":"2025-07-25 12:11","v":61.628},{"t":"2025-07-25 12:12","v":61.635},{"t":"2025-07-25 12:13","v":61.640},{"t":"2025-07-25 12:14","v":61.651},{"t":"2025-07-25 12:15","v":61.640},{"t":"2025-07-25 12:16","v":61.653},{"t":"2025-07-25 12:17","v":61.666},{"t":"2025-07-25 12:18","v":61.672},{"t":"2025-07-25 12:19","v":61.648},{"t":"2025-07-25 12:20","v":61.684},{"t":"2025-07-25 12:21","v":61.680},{"t":"2025-07-25 12:22","v":61.689},{"t":"2025-07-25 12:23","v":61.680},{"t":"2025-07-25 12:24","v":61.694},{"t":"2025-07-25 12:25","v":61.684},{"t":"2025-07-25 12:26","v":61.657},{"t":"2025-07-25 12:27","v":61.655},{"t":"2025-07-25 12:28","v":61.675},{"t":"2025-07-25 12:29","v":61.670},{"t":"2025-07-25 12:30","v":61.648},{"t":"2025-07-25 12:31","v":61.644},{"t":"2025-07-25 12:32","v":61.637},{"t":"2025-07-25 12:33","v":61.593},{"t":"2025-07-25 12:34","v":61.637},{"t":"2025-07-25 12:35","v":61.694},{"t":"2025-07-25 12:36","v":61.691},{"t":"2025-07-25 12:37","v":61.699},{"t":"2025-07-25 12:38","v":61.708},{"t":"2025-07-25 12:39","v":61.706},{"t":"2025-07-25 12:40","v":61.691},{"t":"2025-07-25 12:41","v":61.673},{"t":"2025-07-25 12:42","v":61.666},{"t":"2025-07-25 12:43","v":61.667},{"t":"2025-07-25 12:44","v":61.677},{"t":"2025-07-25 12:45","v":61.673}
  ]},
  "layer": [
   {"mark": {"type": "area", "clip": true, "interpolate": "linear",
      "color": {"gradient": "linear", "x1": 0, "y1": 0, "x2": 0, "y2": 1,
        "stops": [{"offset": 0, "color": "rgba(242,54,69,0.28)"}, {"offset": 1, "color": "rgba(242,54,69,0.02)"}]}},
    "encoding": {
      "x": {"field": "t", "type": "temporal",
        "scale": {"type": "utc", "domain": [{"year": 2025, "month": 7, "date": 24, "hours": 20, "minutes": 0, "utc": true}, {"year": 2025, "month": 7, "date": 25, "hours": 13, "minutes": 26, "seconds": 57, "utc": true}]},
        "axis": {"orient": "bottom", "offset": -30,
          "values": [
            {"year": 2025, "month": 7, "date": 24, "hours": 20, "utc": true},
            {"year": 2025, "month": 7, "date": 24, "hours": 21, "utc": true},
            {"year": 2025, "month": 7, "date": 24, "hours": 22, "utc": true},
            {"year": 2025, "month": 7, "date": 24, "hours": 23, "utc": true},
            {"year": 2025, "month": 7, "date": 25, "hours": 0, "utc": true},
            {"year": 2025, "month": 7, "date": 25, "hours": 1, "utc": true},
            {"year": 2025, "month": 7, "date": 25, "hours": 2, "utc": true},
            {"year": 2025, "month": 7, "date": 25, "hours": 3, "utc": true},
            {"year": 2025, "month": 7, "date": 25, "hours": 4, "utc": true},
            {"year": 2025, "month": 7, "date": 25, "hours": 5, "utc": true},
            {"year": 2025, "month": 7, "date": 25, "hours": 6, "utc": true},
            {"year": 2025, "month": 7, "date": 25, "hours": 7, "utc": true},
            {"year": 2025, "month": 7, "date": 25, "hours": 8, "utc": true},
            {"year": 2025, "month": 7, "date": 25, "hours": 9, "utc": true},
            {"year": 2025, "month": 7, "date": 25, "hours": 10, "utc": true},
            {"year": 2025, "month": 7, "date": 25, "hours": 11, "utc": true},
            {"year": 2025, "month": 7, "date": 25, "hours": 12, "utc": true}
          ],
          "labelExpr": "utchours(datum.value) == 0 ? utcFormat(datum.value, '%d') : utcFormat(datum.value, '%H:%M')",
          "labelFontWeight": {"condition": {"test": "utchours(datum.value) == 0", "value": "bold"}, "value": "normal"},
          "labelFont": "Liberation Sans", "labelFontSize": 12, "labelColor": "#131722", "labelPadding": 9,
          "labelFlush": true, "labelOverlap": false,
          "ticks": false, "domain": false, "grid": false,
          "title": "TradingView", "titleFont": "Liberation Sans", "titleFontSize": 14, "titleFontWeight": "normal", "titleColor": "#131722",
          "titleX": 28, "titleY": 55, "titleAlign": "left", "titleBaseline": "alphabetic"}},
      "y": {"field": "v", "type": "quantitative",
        "scale": {"domain": [61.1822, 61.9676], "zero": false, "nice": false},
        "axis": {"orient": "right", "offset": -54, "values": [61.3, 61.4, 61.5, 61.6, 61.7, 61.8, 61.9],
          "labelExpr": "format(datum.value, '.2f') + '%'",
          "labelFont": "Liberation Sans", "labelFontSize": 12, "labelColor": "#131722", "labelPadding": 0,
          "labelAlign": "left", "labelBaseline": "middle",
          "ticks": false, "domain": false, "grid": false, "title": null}},
      "y2": {"datum": 61.2585}}},
   {"mark": {"type": "line", "clip": true, "color": "#F23645", "strokeWidth": 2, "strokeJoin": "round"},
    "encoding": {
      "x": {"field": "t", "type": "temporal"},
      "y": {"field": "v", "type": "quantitative"}}}
  ]},
  {"data": {"values": [{"label": "Prev close", "start": "2025-07-24 20:00", "end": "2025-07-25 12:06", "level": 61.82}], "format": {"parse": {"start": "utc:'%Y-%m-%d %H:%M'", "end": "utc:'%Y-%m-%d %H:%M'"}}},
   "mark": {"type": "rule", "clip": true, "color": "#787b86", "strokeWidth": 1, "strokeDash": [1, 3.2]},
   "encoding": {
     "x": {"field": "start", "type": "temporal"},
     "x2": {"field": "end"},
     "y": {"field": "level", "type": "quantitative"}}},
  {"data": {"values": [{"label": "Prev close"}]},
   "mark": {"type": "rect", "color": "#808080", "cornerRadius": 2},
   "encoding": {
     "x": {"datum": {"year": 2025, "month": 7, "date": 25, "hours": 12, "minutes": 6, "utc": true}, "type": "temporal"},
     "x2": {"datum": {"year": 2025, "month": 7, "date": 25, "hours": 12, "minutes": 48, "seconds": 50, "utc": true}},
     "y": {"datum": 61.8407, "type": "quantitative"},
     "y2": {"datum": 61.7993}}},
  {"data": {"values": [{"label": "Prev close"}]},
   "mark": {"type": "rect", "color": "#808080", "cornerRadius": 2},
   "encoding": {
     "x": {"datum": {"year": 2025, "month": 7, "date": 25, "hours": 12, "minutes": 49, "seconds": 25, "utc": true}, "type": "temporal"},
     "x2": {"datum": {"year": 2025, "month": 7, "date": 25, "hours": 13, "minutes": 23, "seconds": 30, "utc": true}},
     "y": {"datum": 61.8407, "type": "quantitative"},
     "y2": {"datum": 61.7993}}},
  {"data": {"values": [{"label": "Last"}]},
   "mark": {"type": "rect", "color": "#F23645", "cornerRadius": 2},
   "encoding": {
     "x": {"datum": {"year": 2025, "month": 7, "date": 25, "hours": 12, "minutes": 49, "seconds": 25, "utc": true}, "type": "temporal"},
     "x2": {"datum": {"year": 2025, "month": 7, "date": 25, "hours": 13, "minutes": 23, "seconds": 30, "utc": true}},
     "y": {"datum": 61.6907, "type": "quantitative"},
     "y2": {"datum": 61.6493}}},
  {"data": {"values": [{"label": "Prev close"}]},
   "mark": {"type": "text", "align": "left", "baseline": "middle", "color": "#ffffff", "font": "Liberation Sans", "fontSize": 13},
   "encoding": {
     "x": {"datum": {"year": 2025, "month": 7, "date": 25, "hours": 12, "minutes": 7, "seconds": 8, "utc": true}, "type": "temporal"},
     "y": {"datum": 61.82, "type": "quantitative"},
     "text": {"field": "label"}}},
  {"data": {"values": [{"label": "61.82%"}]},
   "mark": {"type": "text", "align": "left", "baseline": "middle", "color": "#ffffff", "font": "Liberation Sans", "fontSize": 12},
   "encoding": {
     "x": {"datum": {"year": 2025, "month": 7, "date": 25, "hours": 12, "minutes": 55, "seconds": 43, "utc": true}, "type": "temporal"},
     "y": {"datum": 61.82, "type": "quantitative"},
     "text": {"field": "label"}}},
  {"data": {"values": [{"label": "61.67%"}]},
   "mark": {"type": "text", "align": "left", "baseline": "middle", "color": "#ffffff", "font": "Liberation Sans", "fontSize": 12},
   "encoding": {
     "x": {"datum": {"year": 2025, "month": 7, "date": 25, "hours": 12, "minutes": 55, "seconds": 43, "utc": true}, "type": "temporal"},
     "y": {"datum": 61.67, "type": "quantitative"},
     "text": {"field": "label"}}}
]
}
